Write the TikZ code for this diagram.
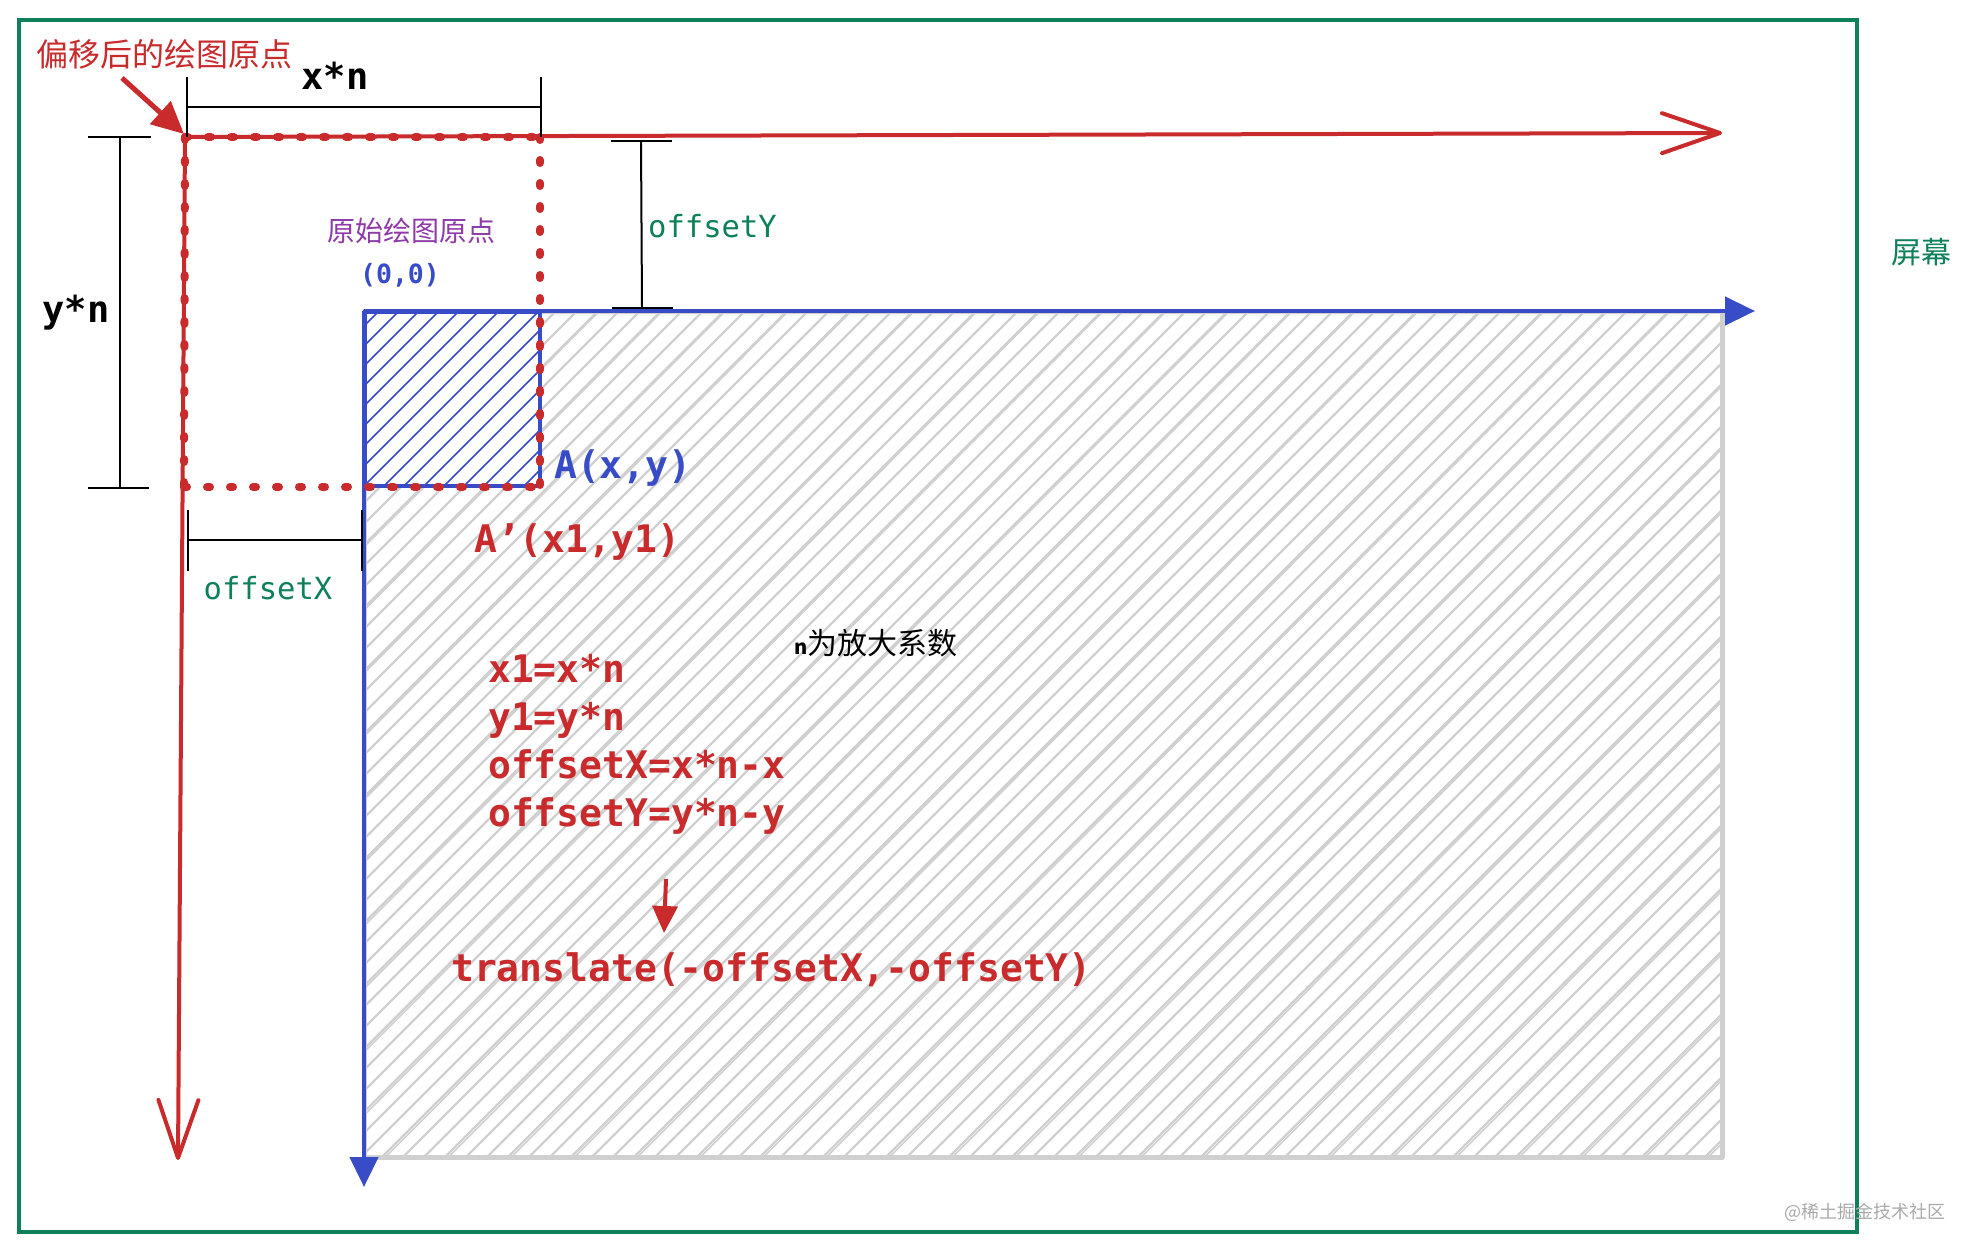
\documentclass[tikz,border=0pt]{standalone}
\usepackage{fontspec}
\newfontfamily\cjk{Noto Sans CJK SC}
\newfontfamily\code{DejaVu Sans Mono}
\usetikzlibrary{arrows.meta}
\definecolor{cRed}{RGB}{201,42,44}
\definecolor{cBlue}{RGB}{56,76,200}
\definecolor{cGreen}{RGB}{14,128,90}
\definecolor{cPurple}{RGB}{142,58,168}
\definecolor{cGray}{RGB}{208,208,208}
\definecolor{cMark}{RGB}{170,170,170}
\tikzset{
  redaxis/.style={draw=cRed, line width=4pt, line cap=round, -{Straight Barb[length=58pt,width=40pt,round]}},
  blueaxis/.style={draw=cBlue, line width=4.5pt, -{Triangle[length=30pt,width=28pt]}},
  reddots/.style={draw=cRed, line width=8pt, line cap=round, dash pattern=on 3pt off 20pt},
  dimline/.style={draw=black, line width=2pt},
  codetxt/.style={inner sep=0pt, font=\code\bfseries\fontsize{38}{40}\selectfont},
  greentxt/.style={inner sep=0pt, text=cGreen, font=\code\fontsize{30.5}{32}\selectfont},
  hatchgray/.style={draw=cGray, line width=2.2pt},
  hatchblue/.style={draw=cBlue, line width=1.6pt},
}
\begin{document}
\begin{tikzpicture}[x=1pt,y=-1pt]
\useasboundingbox (0,0) rectangle (1977,1252);
\fill[white] (0,0) rectangle (1977,1252);

% screen frame
\draw[cGreen, line width=4pt] (19,20) rectangle (1857,1232);
\node[inner sep=0pt, text=cGreen, font=\cjk\fontsize{30}{32}\selectfont] (screen) at (1921,252) {屏幕};

% gray hatched canvas
\begin{scope}
  \clip (364,311) rectangle (1722,1157);
  \foreach \a in {-860,-839,...,1740} {
    \draw[hatchgray] (\a,1160) -- ++(850,-850);
  }
  \foreach \a in {-818,-755,...,1740} {
    \draw[hatchgray, line width=1.6pt] (\a+3.5,1160) -- ++(848,-850);
  }
\end{scope}
\draw[cGray, line width=5pt, line join=round] (364,311) rectangle (1722,1157);

% original small rect (blue hatch)
\fill[white] (365,312) rectangle (540,486);
\begin{scope}
  \clip (365,312) rectangle (540,486);
  \foreach \a in {180,200,...,560} {
    \draw[hatchblue] (\a,490) -- ++(182,-182);
  }
\end{scope}
\draw[cBlue, line width=4pt] (365,312) rectangle (540,486);

% blue axes
\coordinate (O) at (364,311);
\coordinate (XB) at (1755,311);
\coordinate (YB) at (364,1187);
\draw[blueaxis] (O) -- (XB);
\draw[blueaxis] (O) -- (YB);

% red axes
\coordinate (O2) at (185,137);
\coordinate (XR) at (1722,133);
\coordinate (YR) at (178,1160);
\draw[redaxis] (O2) -- (XR);
\draw[redaxis] (O2) -- (YR);

% red dotted rectangle
\coordinate (D1) at (540,137);
\coordinate (D2) at (540,487);
\coordinate (D3) at (184,487);
\draw[reddots] (O2) -- (D1);
\draw[reddots] (D1) -- (D2);
\draw[reddots] (D3) -- (D2);
\draw[reddots] (O2) -- (D3);

% pointer to new origin
\node[inner sep=0pt, anchor=west, text=cRed, font=\cjk\fontsize{32}{34}\selectfont] (newo) at (36,54) {偏移后的绘图原点};
\coordinate (P0) at (122,78);
\coordinate (P1) at (184,134);
\draw[cRed, line width=5pt, -{Triangle[length=32pt,width=30pt]}] (P0) -- (P1);

% dimension x*n
\coordinate (xa) at (187,107); \coordinate (xb) at (541,107);
\draw[dimline] (xa) -- (xb);
\draw[dimline] (187,77) -- (187,137);
\draw[dimline] (541,77) -- (541,137);
\node[codetxt, anchor=base, text=black, font=\code\bfseries\fontsize{37}{40}\selectfont] (xn) at (335,90) {x*n};

% dimension y*n
\coordinate (ya) at (120,137); \coordinate (yb) at (120,488);
\draw[dimline] (ya) -- (yb);
\draw[dimline] (88,137) -- (151,137);
\draw[dimline] (88,488) -- (149,488);
\node[codetxt, anchor=base, text=black, font=\code\bfseries\fontsize{37}{40}\selectfont] (yn) at (76,322) {y*n};

% dimension offsetY
\coordinate (oya) at (641,141); \coordinate (oyb) at (642,308);
\draw[dimline] (oya) -- (oyb);
\draw[dimline] (611,141) -- (672,141);
\draw[dimline] (612,308) -- (673,308);
\node[greentxt, anchor=base west] (offy) at (648,237) {offsetY};

% dimension offsetX
\coordinate (oxa) at (188,540); \coordinate (oxb) at (362,540);
\draw[dimline] (oxa) -- (oxb);
\draw[dimline] (188,510) -- (188,571);
\draw[dimline] (362,510) -- (362,571);
\node[greentxt, anchor=base] (offx) at (268,599) {offsetX};

% labels
\node[inner sep=0pt, text=cPurple, font=\cjk\fontsize{28}{30}\selectfont] (orig) at (411,231) {原始绘图原点};
\node[inner sep=0pt, anchor=base, text=cBlue, font=\code\bfseries\fontsize{26.5}{28}\selectfont] (zero) at (400,283) {(0,0)};
\node[codetxt, anchor=base west, text=cBlue] (Axy) at (554,478) {A(x,y)};
\node[codetxt, anchor=base west, text=cRed] (Ap) at (474,552) {A’(x1,y1)};
\node[inner sep=0pt, anchor=west, font=\cjk\fontsize{30}{32}\selectfont] (nfac) at (794,643) {{\fontsize{20}{22}\selectfont\bfseries n}为放大系数};

% formulas
\node[codetxt, anchor=base west, text=cRed] (f1) at (488,682) {x1=x*n};
\node[codetxt, anchor=base west, text=cRed] (f2) at (488,730) {y1=y*n};
\node[codetxt, anchor=base west, text=cRed] (f3) at (488,778) {offsetX=x*n-x};
\node[codetxt, anchor=base west, text=cRed] (f4) at (488,826) {offsetY=y*n-y};
\coordinate (sa) at (666,879); \coordinate (sb) at (664,933);
\draw[cRed, line width=4pt, -{Triangle[length=27pt,width=25pt]}] (sa) -- (sb);
\node[codetxt, anchor=base west, text=cRed] (tr) at (451,981) {translate(-offsetX,-offsetY)};

% watermark
\node[inner sep=0pt, text=cMark, font=\cjk\fontsize{18}{20}\selectfont] (wm) at (1865,1212) {@稀土掘金技术社区};
\end{tikzpicture}
\end{document}
